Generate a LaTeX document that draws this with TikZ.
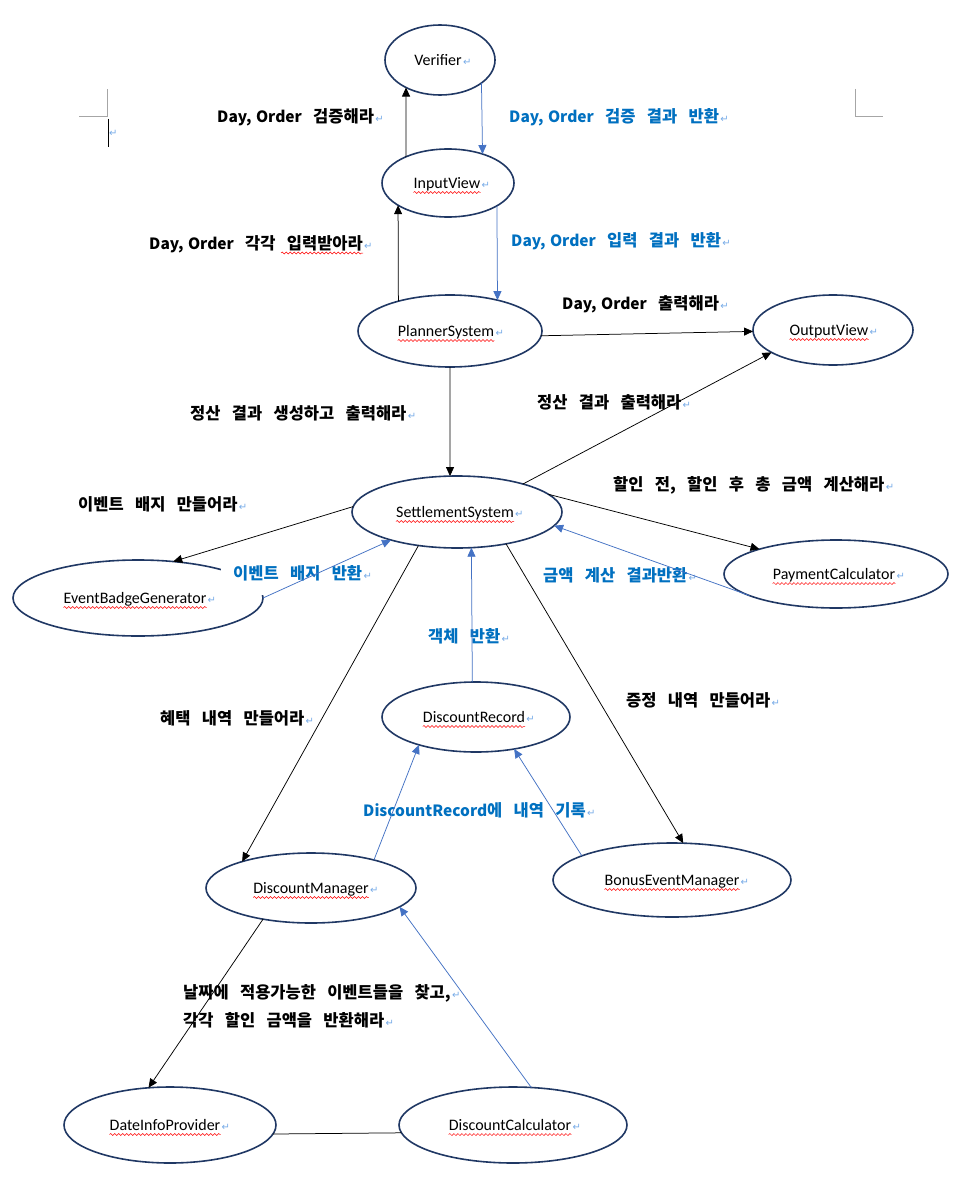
\documentclass[tikz,border=0pt]{standalone}
\usepackage{fontspec}
\usetikzlibrary{shapes.geometric,arrows.meta,decorations.pathmorphing}
\newfontfamily\kr[WordSpace=3.0]{Noto Sans CJK KR}
\newfontfamily\carlito{Carlito}
\newfontfamily\dejavu{DejaVu Sans}
\definecolor{navy}{RGB}{32,56,100}
\definecolor{arrowblue}{RGB}{68,114,196}
\definecolor{labelblue}{RGB}{0,112,192}
\definecolor{pmblue}{RGB}{120,172,232}
\definecolor{margingray}{RGB}{166,166,166}
\tikzset{
  ent/.style={ellipse, draw=navy, line width=1.6pt, fill=white, inner sep=0pt, outer sep=0pt},
  nm/.style={font=\carlito\fontsize{16}{19}\selectfont, inner sep=0pt, anchor=base},
  lbl/.style={font=\kr\bfseries\fontsize{16.5}{20}\selectfont, inner sep=0pt, anchor=base west},
  pm/.style={font=\dejavu\fontsize{10}{10}\selectfont, text=pmblue, inner sep=0pt, anchor=base west},
  squig/.style={draw=red, line width=0.5pt, decorate, decoration={snake, segment length=4pt, amplitude=1pt}},
  cb/.style={draw=black, line width=0.75pt, -{Triangle[length=9pt,width=8pt]}},
  cbl/.style={draw=arrowblue, line width=0.75pt, -{Triangle[length=9pt,width=8pt]}},
  plain/.style={draw=black, line width=0.75pt},
}
\newcommand\ename[4]{%
  \node[nm] (#1) at (#2,#3) {#4};
  \draw[squig] ([yshift=-4pt]#1.base west) -- ([yshift=-4pt]#1.base east);
  \node[pm] (#1p) at ([xshift=1pt]#1.base east) {↵};
}
\newcommand\lab[5]{%
  \node[lbl, text=#2] (#1) at (#3,#4) {#5};
  \node[pm] (#1p) at ([xshift=1pt]#1.base east) {↵};
}
\newcommand\lat[1]{{\fontsize{15.5}{20}\selectfont #1}}
\newcommand\dayorder{\lat{Day,\hspace{4.5pt}Order}}
\begin{document}
\begin{tikzpicture}[x=1pt,y=-1pt]
\fill[white] (0,0) rectangle (965,1193);
\useasboundingbox (0,0) rectangle (965,1193);

% margin marks and cursor
\draw[margingray, line width=1pt] (79,117) -- (107,117) -- (107,89);
\draw[margingray, line width=1pt] (855,89) -- (855,117) -- (883,117);
\draw[black, line width=0.8pt] (108,119) -- (108,147);
\node[pm] (cursorp) at (109,137) {↵};

% entities
\node[ent, minimum width=110pt, minimum height=70pt] (ver) at (440,60) {};
\node[ent, minimum width=132pt, minimum height=68pt] (inp) at (448,183) {};
\node[ent, minimum width=184pt, minimum height=72pt] (pl) at (450,331) {};
\node[ent, minimum width=160pt, minimum height=70pt] (out) at (833,330) {};
\node[ent, minimum width=210pt, minimum height=72pt] (set) at (457,512) {};
\node[ent, minimum width=250pt, minimum height=76pt] (ebg) at (138,598) {};
\node[ent, minimum width=224pt, minimum height=68pt] (pay) at (836,574) {};
\node[ent, minimum width=188pt, minimum height=70pt] (rec) at (476,717) {};
\node[ent, minimum width=210pt, minimum height=70pt] (dm) at (311,888) {};
\node[ent, minimum width=238pt, minimum height=74pt] (bem) at (672,880) {};
\node[ent, minimum width=212pt, minimum height=76pt] (dip) at (170,1125) {};
\node[ent, minimum width=228pt, minimum height=76pt] (dc) at (513,1125) {};

% white text box of a label hiding part of an ellipse
\fill[white] (221,556) rectangle (380,595);

% entity names
\node[nm] (verT) at (438,65.5) {Verifier};
\node[pm] (verTp) at ([xshift=1pt]verT.base east) {↵};
\ename{inpT}{447}{188.5}{InputView}
\ename{plT}{446}{336.5}{PlannerSystem}
\ename{outT}{829}{335.5}{OutputView}
\ename{setT}{455}{517.5}{SettlementSystem}
\ename{ebgT}{135}{603.5}{EventBadgeGenerator}
\ename{payT}{834}{579.5}{PaymentCalculator}
\ename{recT}{474}{722.5}{DiscountRecord}
\ename{dmT}{311}{893.5}{DiscountManager}
\ename{bemT}{672}{885.5}{BonusEventManager}
\ename{dipT}{165}{1130.5}{DateInfoProvider}
\ename{dcT}{510}{1130.5}{DiscountCalculator}

% labels
\lab{L1}{black}{217}{123}{\dayorder{} 검증해라}
\lab{L2}{labelblue}{509}{123}{\dayorder{} 검증 결과 반환}
\lab{L3}{black}{149}{249}{\dayorder{} 각각 입력받아라}
\draw[squig] ([xshift=-82pt,yshift=-4pt]L3.base east) -- ([yshift=-4pt]L3.base east);
\lab{L4}{labelblue}{511}{246}{\dayorder{} 입력 결과 반환}
\lab{L5}{black}{562}{309}{\dayorder{} 출력해라}
\lab{L6}{black}{190}{419}{정산 결과 생성하고 출력해라}
\lab{L7}{black}{537}{408}{정산 결과 출력해라}
\lab{L8}{black}{613}{490}{할인 전, 할인 후 총 금액 계산해라}
\lab{L9}{black}{78}{510}{이벤트 배지 만들어라}
\lab{L10}{labelblue}{233}{579}{이벤트 배지 반환}
\lab{L11}{labelblue}{543}{581}{금액 계산 결과반환}
\lab{L12}{labelblue}{428}{642}{객체 반환}
\lab{L13}{black}{160}{724}{혜택 내역 만들어라}
\lab{L14}{black}{626}{706}{증정 내역 만들어라}
\lab{L15}{labelblue}{363}{816}{\lat{DiscountRecord}에 내역 기록}
\lab{L16}{black}{183}{998}{날짜에 적용가능한 이벤트들을 찾고,}
\lab{L17}{black}{183}{1026}{각각 할인 금액을 반환해라}

% connectors
\draw[cb] (pl.150) -- (inp.204);
\draw[cbl] (inp.335) -- (pl.33.3);
\draw[cb] (inp.148) -- (ver.219);
\draw[cbl] (ver.331.7) -- (inp.40.6);
\draw[cb] (pl.357) -- (out.181);
\draw[cb] (pl.270) -- (set.101);
\draw[cb] (set.23.7) -- (out.200.7);
\draw[cb] (set.177.2) -- (ebg.46.6);
\draw[cbl] (ebg.0.5) -- (set.203.5);
\draw[cb] (set.11.1) -- (pay.162.6);
\draw[cbl] (pay.194.2) -- (set.352);
\draw[cb] (set.221.3) -- (dm.159.3);
\draw[cbl] (rec.96.5) -- (set.292.8);
\draw[cb] (set.327.5) -- (bem.73.4);
\draw[cbl] (dm.24) -- (rec.206.9);
\draw[cbl] (bem.165.8) -- (rec.320.2);
\draw[cb] (dm.213.1) -- (dip.120);
\draw[cbl] (dc.64) -- (dm.348.8);
\draw[plain] (dip.355.6) -- (dc.184.1);
\end{tikzpicture}
\end{document}
